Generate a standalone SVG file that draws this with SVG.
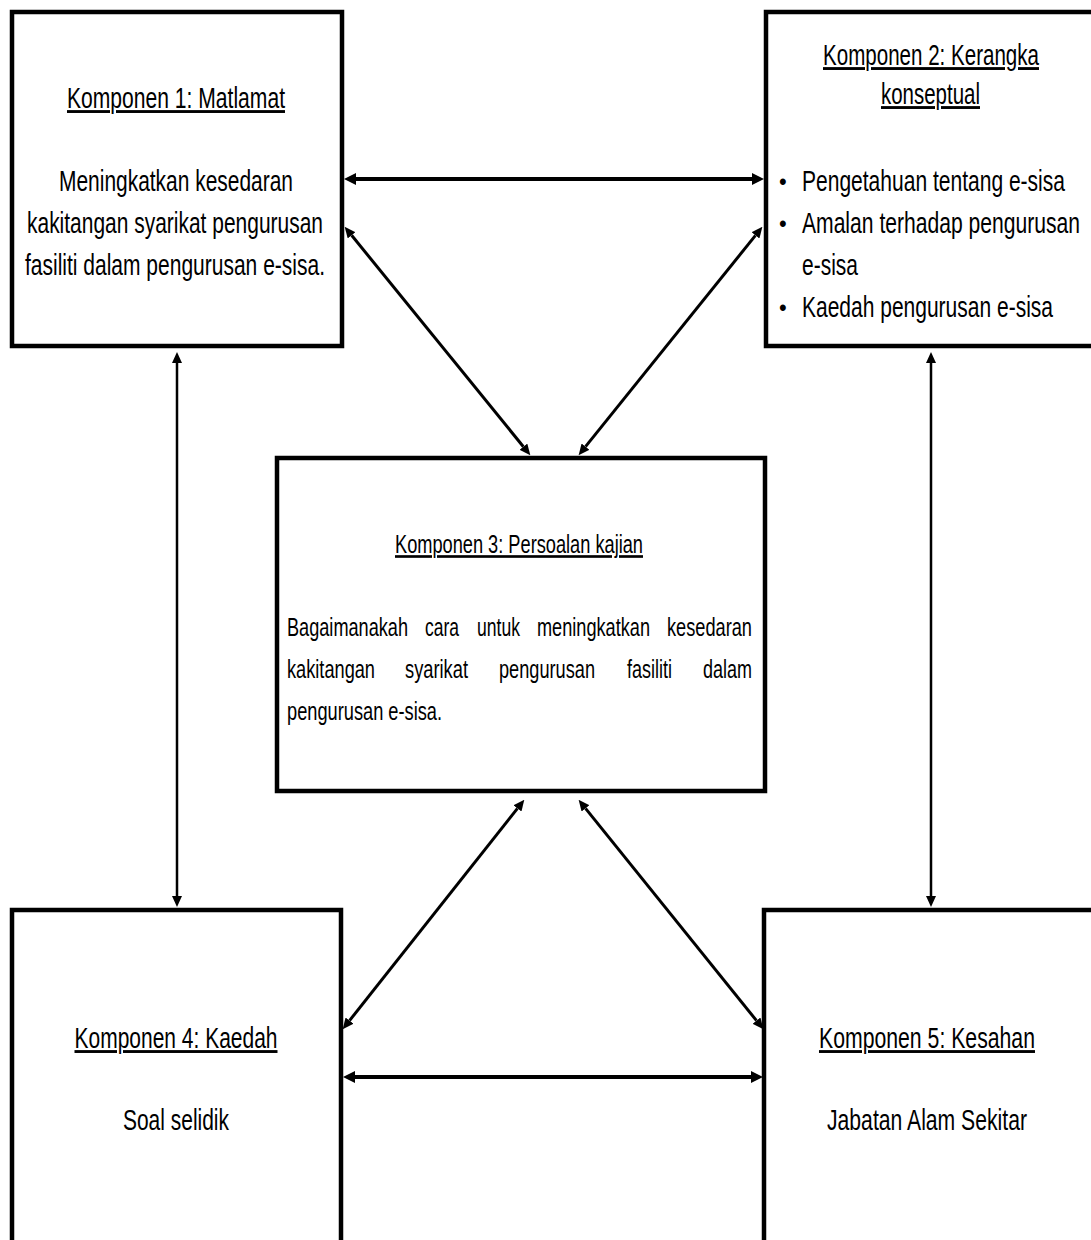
<svg xmlns="http://www.w3.org/2000/svg" width="1091" height="1240" viewBox="0 0 1091 1240">
<style>
.box{fill:#fff;stroke:#000;stroke-width:4.5}
text{font-family:"Liberation Sans Narrow","Arial Narrow","Liberation Sans",Arial,sans-serif;font-size:25.6px;fill:#000}
.p{font-size:22.2px}
.b{font-size:22px}
.c{text-anchor:middle}
.u{text-decoration:underline}
.thick{stroke:#000;stroke-width:4;fill:none}
.thin{stroke:#000;stroke-width:3;fill:none}
.vert{stroke:#000;stroke-width:2.5;fill:none}
</style>
<defs>
<marker id="ah" markerUnits="userSpaceOnUse" viewBox="0 0 12 12" refX="0" refY="6" markerWidth="12" markerHeight="12" orient="auto-start-reverse"><path d="M0,0 L12,6 L0,12 z" fill="#000"/></marker>
<marker id="as" markerUnits="userSpaceOnUse" viewBox="0 0 11 10" refX="0" refY="5" markerWidth="11" markerHeight="10" orient="auto-start-reverse"><path d="M0,0 L11,5 L0,10 z" fill="#000"/></marker>
</defs>
<rect x="0" y="0" width="1091" height="1240" fill="#fff"/>

<g id="node1">
<rect class="box" x="12" y="12" width="330" height="334"/>
<g transform="scale(1,1.12)">
<text class="c u" x="176" y="96.43" textLength="218" lengthAdjust="spacingAndGlyphs">Komponen 1: Matlamat</text>
<text class="c" x="176" y="170.54" textLength="234" lengthAdjust="spacingAndGlyphs">Meningkatkan kesedaran</text>
<text class="c" x="175" y="208.04" textLength="296" lengthAdjust="spacingAndGlyphs">kakitangan syarikat pengurusan</text>
<text class="c" x="175" y="245.54" textLength="300" lengthAdjust="spacingAndGlyphs">fasiliti dalam pengurusan e-sisa.</text>
</g>
</g>

<g id="node2">
<rect class="box" x="766" y="12" width="330" height="334"/>
<g transform="scale(1,1.12)">
<text class="c u" x="931" y="58.04" textLength="216" lengthAdjust="spacingAndGlyphs">Komponen 2: Kerangka</text>
<text class="c u" x="930.5" y="92.86" textLength="99" lengthAdjust="spacingAndGlyphs">konseptual</text>
<text class="b" x="779" y="169.64">•</text>
<text x="802" y="170.54" textLength="263" lengthAdjust="spacingAndGlyphs">Pengetahuan tentang e-sisa</text>
<text class="b" x="779" y="207.14">•</text>
<text x="802" y="208.04" textLength="278" lengthAdjust="spacingAndGlyphs">Amalan terhadap pengurusan</text>
<text x="802" y="245.54" textLength="56" lengthAdjust="spacingAndGlyphs">e-sisa</text>
<text class="b" x="779" y="282.14">•</text>
<text x="802" y="283.04" textLength="251" lengthAdjust="spacingAndGlyphs">Kaedah pengurusan e-sisa</text>
</g>
</g>

<g id="node3">
<rect class="box" x="277" y="458" width="488" height="333"/>
<g transform="scale(1,1.2)">
<text class="c u p" x="519" y="460.83" textLength="248" lengthAdjust="spacingAndGlyphs">Komponen 3: Persoalan kajian</text>
<text class="p" x="287" y="530" textLength="121" lengthAdjust="spacingAndGlyphs">Bagaimanakah</text>
<text class="p" x="425" y="530" textLength="34" lengthAdjust="spacingAndGlyphs">cara</text>
<text class="p" x="477" y="530" textLength="43" lengthAdjust="spacingAndGlyphs">untuk</text>
<text class="p" x="537" y="530" textLength="113" lengthAdjust="spacingAndGlyphs">meningkatkan</text>
<text class="p" x="667" y="530" textLength="85" lengthAdjust="spacingAndGlyphs">kesedaran</text>
<text class="p" x="287" y="565" textLength="88" lengthAdjust="spacingAndGlyphs">kakitangan</text>
<text class="p" x="405" y="565" textLength="63" lengthAdjust="spacingAndGlyphs">syarikat</text>
<text class="p" x="499" y="565" textLength="96" lengthAdjust="spacingAndGlyphs">pengurusan</text>
<text class="p" x="627" y="565" textLength="45" lengthAdjust="spacingAndGlyphs">fasiliti</text>
<text class="p" x="703" y="565" textLength="49" lengthAdjust="spacingAndGlyphs">dalam</text>
<text class="p" x="287" y="600" textLength="155" lengthAdjust="spacingAndGlyphs">pengurusan e-sisa.</text>
</g>
</g>

<g id="node4">
<rect class="box" x="12" y="910" width="329" height="340"/>
<g transform="scale(1,1.12)">
<text class="c u" x="176" y="935.71" textLength="203" lengthAdjust="spacingAndGlyphs">Komponen 4: Kaedah</text>
<text class="c" x="176" y="1008.93" textLength="106" lengthAdjust="spacingAndGlyphs">Soal selidik</text>
</g>
</g>

<g id="node5">
<rect class="box" x="764" y="910" width="330" height="340"/>
<g transform="scale(1,1.12)">
<text class="c u" x="927" y="935.71" textLength="216" lengthAdjust="spacingAndGlyphs">Komponen 5: Kesahan</text>
<text class="c" x="927" y="1008.93" textLength="200" lengthAdjust="spacingAndGlyphs">Jabatan Alam Sekitar</text>
</g>
</g>

<g id="connectors">
<line class="thick" x1="356" y1="179" x2="752" y2="179" marker-start="url(#ah)" marker-end="url(#ah)"/>
<line class="thin" x1="351.6" y1="235.3" x2="523.4" y2="446.7" marker-start="url(#as)" marker-end="url(#as)"/>
<line class="thin" x1="755.5" y1="235.4" x2="585.5" y2="446.6" marker-start="url(#as)" marker-end="url(#as)"/>
<line class="vert" x1="177" y1="363" x2="177" y2="896" marker-start="url(#as)" marker-end="url(#as)"/>
<line class="vert" x1="931" y1="363" x2="931" y2="896" marker-start="url(#as)" marker-end="url(#as)"/>
<line class="thin" x1="517.5" y1="808.4" x2="349.5" y2="1020.6" marker-start="url(#as)" marker-end="url(#as)"/>
<line class="thin" x1="585.5" y1="808.4" x2="756.5" y2="1020.6" marker-start="url(#as)" marker-end="url(#as)"/>
<line class="thick" x1="355" y1="1077" x2="751" y2="1077" marker-start="url(#ah)" marker-end="url(#ah)"/>
</g>
</svg>
